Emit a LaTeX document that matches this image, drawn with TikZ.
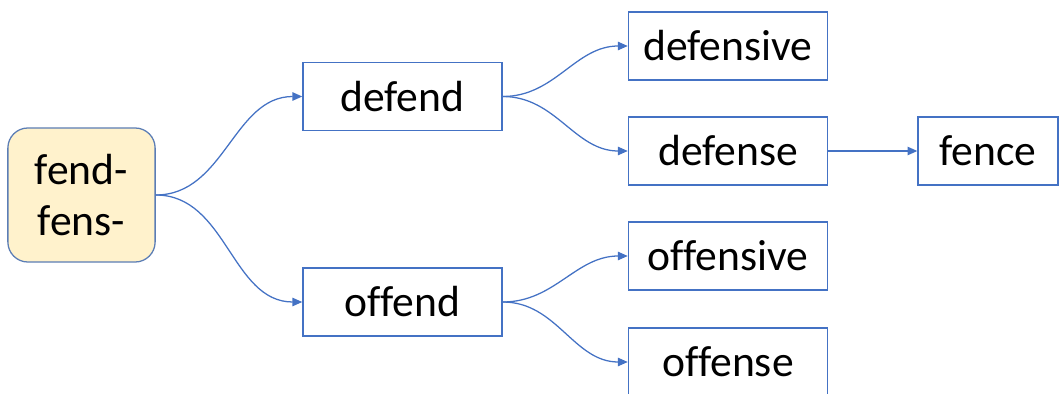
\documentclass[tikz,border=0pt]{standalone}
\usepackage{fontspec}
\setmainfont{Carlito}[Ligatures={NoCommon}]
\usetikzlibrary{arrows.meta}
\definecolor{boxblue}{HTML}{4472C4}
\definecolor{rootfill}{HTML}{FFF2CC}
\definecolor{rootline}{HTML}{5B7DB5}
\begin{document}
\begin{tikzpicture}[x=0.025cm,y=-0.025cm,
		word/.style={draw=boxblue, line width=0.9pt, minimum width=4.98cm, minimum height=1.7cm, inner sep=0pt, font=\fontsize{31}{37}\selectfont},
		link/.style={boxblue, line width=0.9pt, -{Triangle[length=7pt,width=6pt]}}]
	% Cadre
	\useasboundingbox (0,0) rectangle (1060,394);
	\clip (0,0) rectangle (1060,394);

	% Racine
	\node[draw=rootline, fill=rootfill, line width=0.9pt, rounded corners=0.5cm, minimum width=3.68cm, minimum height=3.35cm, align=center, font=\fontsize{31}{36}\selectfont] (root) at (81.5,195) {fend-\\fens-};

	% Mots
	\node[word] (defend) at (402.5,96.5) {defend};
	\node[word] (offend) at (402.5,302) {offend};
	\node[word] (defensive) at (728,46) {defensive};
	\node[word] (defense) at (728,151) {defense};
	\node[word] (offensive) at (728,256) {offensive};
	\node[word] (offense) at (728,362) {offense};
	\node[word, minimum width=3.5cm] (fence) at (988,151) {fence};

	% Liens
	\foreach \a/\b in {root/defend, root/offend, defend/defensive, defend/defense, offend/offensive, offend/offense}
	\draw[link] (\a.east) to[out=0, in=180] (\b.west);
	\draw[link] (defense) -- (fence);
\end{tikzpicture}
\end{document}
